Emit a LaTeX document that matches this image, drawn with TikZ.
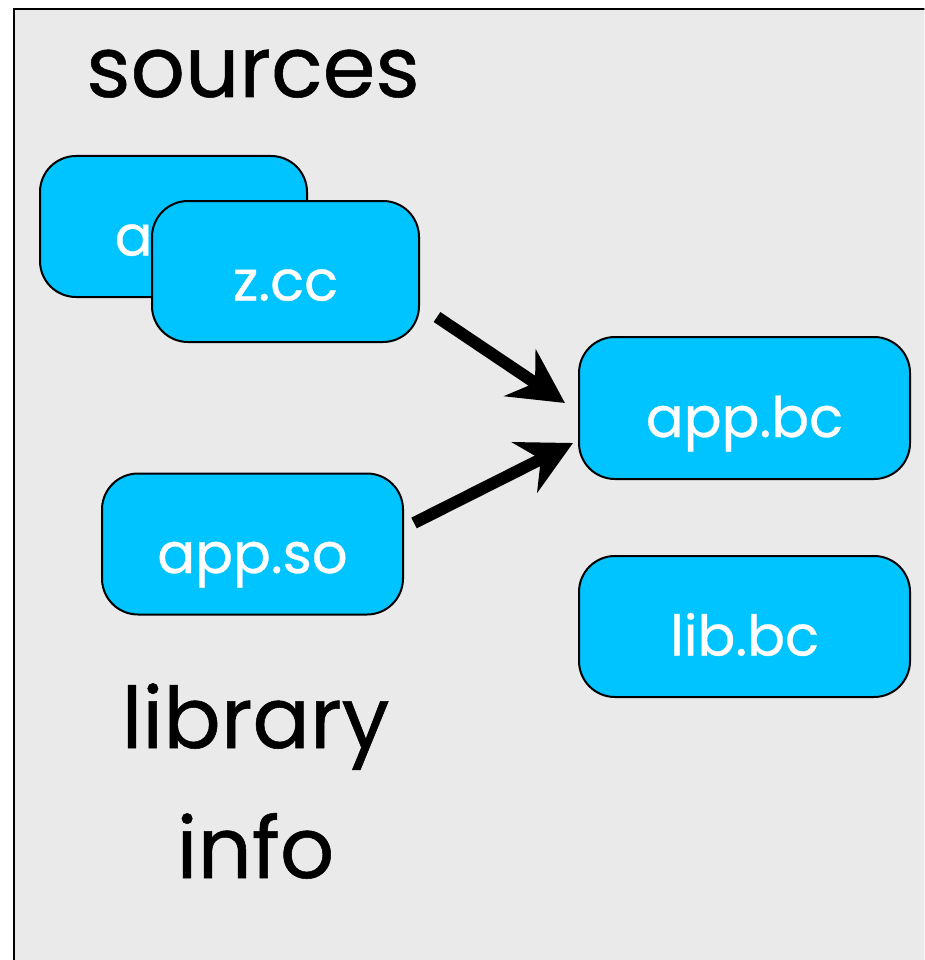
\documentclass[tikz,border=0pt]{standalone}
\usepackage{fontspec}
\setmainfont{Poppins}[FakeBold=0.6]
\usetikzlibrary{arrows.meta,calc}
\definecolor{panelgray}{RGB}{234,234,234}
\definecolor{filecyan}{RGB}{0,196,255}
\tikzset{
  filebox/.style={draw=black, line width=2pt, fill=filecyan, rounded corners=36pt,
    text=white, font=\fontsize{56}{60}\selectfont,
    text height=58pt, text depth=0pt, inner sep=0pt, outer sep=0pt},
  bigword/.style={anchor=base, inner sep=0pt, font=\fontsize{85}{90}\selectfont},
  flow/.style={line width=12pt, -{Stealth[length=54pt, width=56pt, inset=18pt]}}
}
\begin{document}
\begin{tikzpicture}[x=1pt, y=-1pt]
  \useasboundingbox (0,0) rectangle (924.4,960);
  \clip (0,0) rectangle (924.4,960);
  % panel: filled area, framed on the top and left only (the rest runs off the page)
  \fill[panelgray] (14,9) rectangle (1000,1000);
  \draw[line width=2pt] (1000,9) -- (14,9) -- (14,1000);

  % captions
  \node[bigword] (src) at (253,97) {sources};
  \node[bigword] (lib) at (255.5,748) {library};
  \node[bigword] (info) at (255.5,878) {info};

  % files
  \node[filebox, minimum width=267pt, minimum height=141pt] (acc) at (173.5,226.5) {a.cc};
  \node[filebox, minimum width=267pt, minimum height=141pt] (zcc) at (285.5,271.5) {z.cc};
  \node[filebox, minimum width=301pt, minimum height=141pt] (appso) at (252.5,544) {app.so};
  \node[filebox, minimum width=331pt, minimum height=142pt] (appbc) at (744.5,408) {app.bc};
  \node[filebox, minimum width=331pt, minimum height=141pt] (libbc) at (744.5,626.5) {lib.bc};

  % links
  \coordinate (zout) at ($(zcc.south east)+(18,-25)$);
  \coordinate (zin) at ($(appbc.west)+(-14,-5)$);
  \coordinate (sout) at ($(appso.east)+(11,-21)$);
  \coordinate (sin) at ($(appbc.west)+(-6,35)$);
  \draw[flow] (zout) -- (zin);
  \draw[flow] (sout) -- (sin);
\end{tikzpicture}
\end{document}
